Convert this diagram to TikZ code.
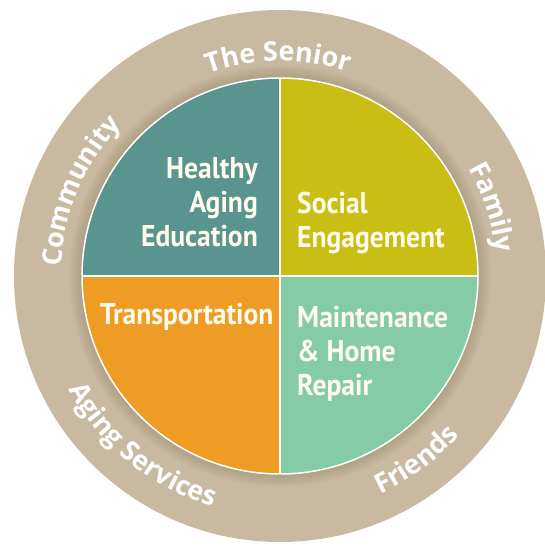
\documentclass[tikz,border=0pt]{standalone}
\usepackage{fontspec}
\usepackage{xcolor}
\usetikzlibrary{calc,decorations.text}
\newfontfamily\ringfont{Open Sans}
\newfontfamily\quadfont[FakeStretch=0.92]{PT Sans}
\definecolor{ringtan}{HTML}{C8B9A0}
\definecolor{ringshade}{HTML}{8A7A5E}
\definecolor{eduteal}{HTML}{5A948E}
\definecolor{socolive}{HTML}{C8BE14}
\definecolor{transorange}{HTML}{EE9C23}
\definecolor{maintmint}{HTML}{85CCA5}
\definecolor{quadtext}{HTML}{FFFBEC}
\tikzset{
  quadlabel/.style={inner sep=0pt,text=quadtext,font=\quadfont\bfseries\fontsize{30}{34}\selectfont},
  ringlabel/.style={decorate,decoration={text along path,text align=center,
    text={|\ringfont\bfseries\fontsize{27}{27}\selectfont\color{white}|#1}}}
}
\begin{document}
\begin{tikzpicture}[x=1pt,y=1pt]
  \useasboundingbox (0,0) rectangle (545,548);
  \coordinate (C) at (280,272);
  % outer ring
  \fill[ringtan] (C) circle (266);
  \foreach \i in {1,...,7}
    \fill[ringshade,opacity=0.06] (C) circle (198+1.8*\i);
  % four quadrants
  \fill[eduteal] (C) -- ++(180:198) arc[start angle=180,end angle=90,radius=198] -- cycle;
  \fill[socolive] (C) -- ++(90:198) arc[start angle=90,end angle=0,radius=198] -- cycle;
  \fill[maintmint] (C) -- ++(0:198) arc[start angle=0,end angle=-90,radius=198] -- cycle;
  \fill[transorange] (C) -- ++(-90:198) arc[start angle=-90,end angle=-180,radius=198] -- cycle;
  \draw[white,line width=1.5pt] (C) circle (198);
  \draw[white,line width=1.5pt] ($(C)+(0,198)$) -- ($(C)+(0,-198)$);
  \draw[white,line width=1.5pt] ($(C)+(-198,0)$) -- ($(C)+(198,0)$);
  % quadrant labels
  \node[quadlabel,anchor=north east,align=right] (health) at (258,391) {Healthy\\Aging\\Education};
  \node[quadlabel,anchor=north west,align=left] (social) at (297,356) {Social\\Engagement};
  \node[quadlabel,anchor=base west] (transport) at (100,223) {Transportation};
  \node[quadlabel,anchor=north west,align=left] (maint) at (297,242) {Maintenance\\\& Home\\Repair};
  % ring labels
  \path[ringlabel=The Senior] (C) ++(130:215) arc[start angle=130,end angle=51,radius=215];
  \path[ringlabel=Community] (C) ++(193:219) arc[start angle=193,end angle=121,radius=219];
  \path[ringlabel=Family] (C) ++(50:217) arc[start angle=50,end angle=-14,radius=217];
  \path[ringlabel=Aging Services] (C) ++(189:240) arc[start angle=189,end angle=273,radius=240];
  \path[ringlabel=Friends] (C) ++(269:240) arc[start angle=269,end angle=344,radius=240];
\end{tikzpicture}
\end{document}
